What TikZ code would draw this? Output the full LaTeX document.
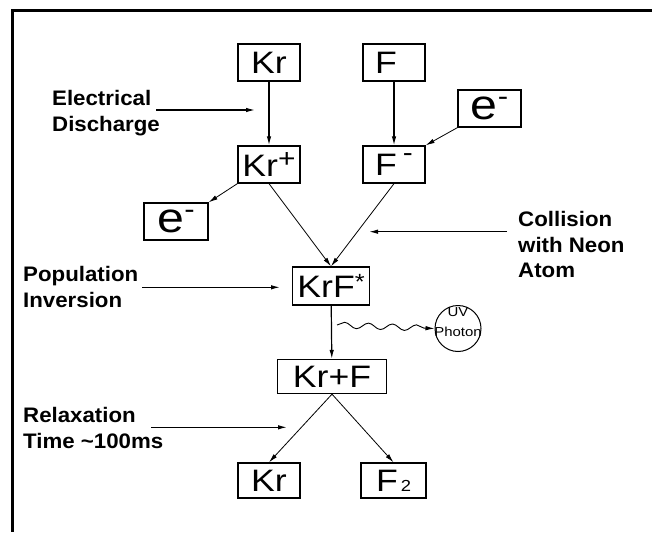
\documentclass[tikz,border=0pt]{standalone}
\usepackage{fontspec}
\setmainfont{Liberation Sans}
\newfontfamily\boxfont[FakeStretch=1.15]{Liberation Sans}
\newfontfamily\lblfont[FakeStretch=1.06]{Liberation Sans}
\usetikzlibrary{arrows.meta,decorations.pathmorphing}

% raised minus sign used for the ions
\newcommand{\ionminus}[2]{\raisebox{#2}{\fontsize{#1}{#1}\selectfont -}}

\begin{document}
\begin{tikzpicture}[x=1pt,y=-1pt,
  box/.style={draw, line width=1.3pt, inner sep=0pt,
    minimum width=62pt, minimum height=37pt,
    font=\boxfont\fontsize{31}{31}\selectfont},
  ebox/.style={box, minimum width=63pt,
    font=\boxfont\fontsize{42}{42}\selectfont},
  lbl/.style={anchor=west, align=left, inner sep=0pt,
    font=\lblfont\bfseries\fontsize{21}{25.3}\selectfont},
  tip/.style={-{Latex[length=9pt,width=4.5pt]}},
  link/.style={tip, line width=1.2pt},
  slant/.style={tip, line width=0.8pt},
  pointer/.style={tip, line width=1.2pt},
  wave/.style={tip, line width=0.9pt, decorate,
    decoration={snake, amplitude=3pt, segment length=24pt, post length=8pt}},
]
\useasboundingbox (0,0) rectangle (652,532);

% frame (open to the right and bottom)
\draw[line width=3.5pt] (652,10.5) -- (12.5,10.5) -- (12.5,532);

% species
\node[box] (kr)   at (269,62.5)  {Kr};
\node[box] (f)    at (394,62.5)  {F\hspace{6pt}\phantom{\ionminus{26}{13.8pt}}};
\node[ebox] (eR)  at (489.5,108.5) {e\ionminus{27}{13.6pt}};
\node[box] (krp)  at (269,164.5) {Kr\raisebox{8.6pt}{\fontsize{26}{26}\selectfont +}};
\node[box] (fm)   at (394,164.5) {F\hspace{6pt}\ionminus{26}{13.8pt}};
\node[ebox, minimum width=64pt] (eL) at (176,221.5) {e\ionminus{27}{13.6pt}};
\node[box, minimum width=77pt, minimum height=38pt] (krf) at (331,286)
  {KrF\raisebox{8.5pt}{\fontsize{22}{22}\selectfont *}};
\node[box, minimum width=109pt, minimum height=34pt] (krpf) at (332,376.5) {Kr+F};
\node[box, minimum height=35pt] (krb) at (269,480.5) {Kr};
\node[box, minimum width=65pt, minimum height=35pt] (f2) at (393.5,480.5)
  {F\hspace{3pt}{\fontsize{16}{16}\selectfont 2}};

% UV photon
\node[circle, draw, line width=1pt, minimum size=46pt, inner sep=0pt] (photon) at (458,328.5) {};
\node[align=center, inner sep=0pt, font=\boxfont\fontsize{13}{20}\selectfont]
  (photonlbl) at (458,322.5) {UV\\Photon};

% process labels
\node[lbl] (discharge) at (52,113)  {Electrical\\Discharge};
\node[lbl] (collision) at (518,244.5) {Collision\\with Neon\\Atom};
\node[lbl] (inversion) at (23,287)  {Population\\Inversion};
\node[lbl] (relax)     at (23,428)  {Relaxation\\Time \textasciitilde100ms};

\coordinate (dischargeA) at (156,110);
\coordinate (dischargeB) at (255,110);
\coordinate (collisionA) at (507,231.7);
\coordinate (collisionB) at (369,231.7);
\coordinate (inversionA) at (142,287.3);
\coordinate (inversionB) at (280,287.3);
\coordinate (relaxA)     at (151,427.3);
\coordinate (relaxB)     at (287,427.3);
\coordinate (wavestart)  at (337,325);

% reaction paths
\draw[link]  (kr) -- (krp);
\draw[link]  (f) -- (fm);
\draw[slant] (eR.south west) -- (fm.north east);
\draw[slant] (krp.south west) -- (eL.north east);
\draw[slant] (krp.south) -- (krf.north);
\draw[slant] (fm.south) -- (krf.north);
\draw[link]  (krf) -- (krpf);
\draw[slant] (krpf.south) -- (krb.north);
\draw[slant] (krpf.south) -- (f2.north);
\draw[wave]  (wavestart) -- (photon.west);

% label pointers
\draw[pointer] (dischargeA) -- (dischargeB);
\draw[pointer] (collisionA) -- (collisionB);
\draw[pointer] (inversionA) -- (inversionB);
\draw[pointer] (relaxA) -- (relaxB);
\end{tikzpicture}
\end{document}
